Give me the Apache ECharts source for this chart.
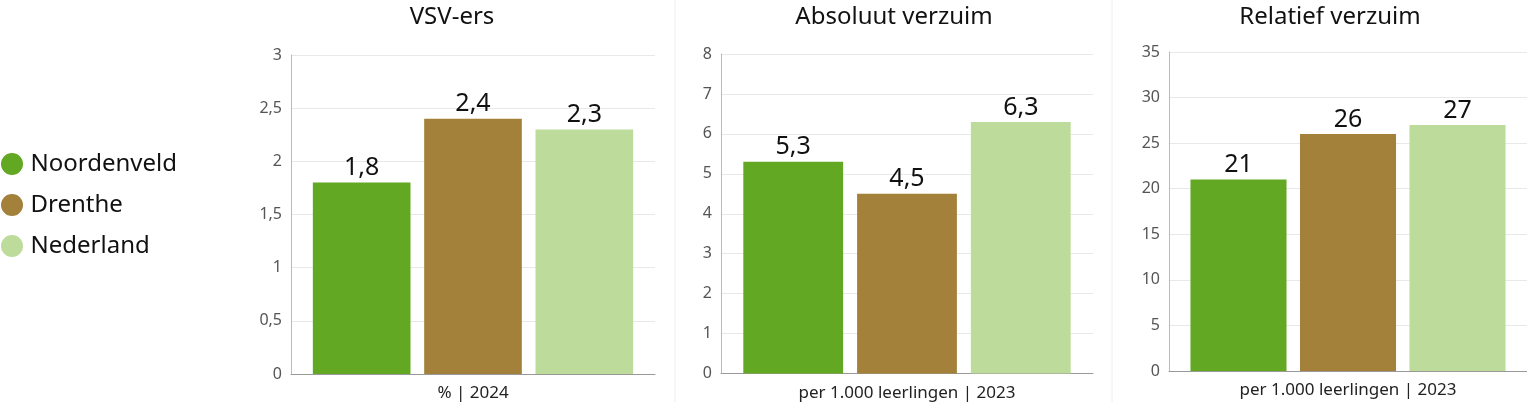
<!DOCTYPE html>
<html><head><meta charset="utf-8">
<script src="https://cdn.jsdelivr.net/npm/echarts@6/dist/echarts.min.js"></script>
<style>html,body{margin:0;padding:0;background:#fff}#c{width:1527px;height:402px}</style>
</head><body><div id="c"></div>
<script>
const seriesNames = ['Noordenveld', 'Drenthe', 'Nederland'];
const colors = ['#62a823', '#a3813b', '#bddb9b'];
const titles = ['VSV-ers', 'Absoluut verzuim', 'Relatief verzuim'];
const xLabels = ['% | 2024', 'per 1.000 leerlingen | 2023', 'per 1.000 leerlingen | 2023'];
const vsvValues = [1.8, 2.4, 2.3];
const absoluutValues = [5.3, 4.5, 6.3];
const relatiefValues = [21, 26, 27];
const yMax = [3, 8, 35];
const yInterval = [0.5, 1, 5];

const panelValues = [vsvValues, absoluutValues, relatiefValues];
const FONT = "'Noto Sans', sans-serif";
const grids = [
  {left: 291, width: 364, top: 55, bottom: 28},
  {left: 721, width: 372, top: 54, bottom: 28.5},
  {left: 1169, width: 358, top: 52, bottom: 31}
];
const titleCenters = [452, 894, 1330];
const fmt = v => String(v).replace('.', ',');

const chart = echarts.init(document.getElementById('c'), null, {renderer: 'canvas'});
const series = [];
panelValues.forEach((vals, p) => {
  vals.forEach((v, i) => {
    series.push({
      type: 'bar', name: seriesNames[i], xAxisIndex: p, yAxisIndex: p,
      data: [v], barGap: '14%', barCategoryGap: '12%',
      itemStyle: {color: colors[i]},
      label: {show: true, position: 'top', distance: 2, color: '#111', fontSize: 25, fontFamily: FONT,
        formatter: pr => fmt(pr.value)},
      emphasis: {disabled: true}
    });
  });
});

chart.setOption({
  animation: false,
  textStyle: {fontFamily: FONT},
  title: titles.map((t, i) => ({
    text: t, left: titleCenters[i], top: 5, padding: 0, textAlign: 'center',
    textStyle: {fontSize: 24, fontWeight: 'normal', color: '#111', fontFamily: FONT}
  })),
  legend: {
    data: seriesNames, orient: 'vertical', left: 1, top: 152, padding: 0, itemGap: 17,
    icon: 'circle', itemWidth: 23, itemHeight: 22, selectedMode: false,
    textStyle: {fontSize: 24, lineHeight: 22, color: '#111', fontFamily: FONT, padding: [0, 0, 0, 2]}
  },
  grid: grids,
  xAxis: grids.map((g, i) => ({
    type: 'category', gridIndex: i, data: [xLabels[i]],
    axisLine: {lineStyle: {color: '#999'}}, axisTick: {show: false},
    axisLabel: {fontSize: 17, color: '#222', margin: 11, fontFamily: FONT}
  })),
  yAxis: grids.map((g, i) => ({
    type: 'value', gridIndex: i, min: 0, max: yMax[i], interval: yInterval[i],
    axisLine: {show: true, lineStyle: {color: '#bbb'}}, axisTick: {show: false},
    splitLine: {lineStyle: {color: '#e8e8e8'}},
    axisLabel: {fontSize: 16, color: '#555', margin: 9, fontFamily: FONT, formatter: v => fmt(v)}
  })),
  graphic: [675, 1112].map(x => ({
    type: 'line', shape: {x1: x, y1: 0, x2: x, y2: 402}, style: {stroke: '#eeeeee', lineWidth: 1}, silent: true
  })),
  series: series
});
</script></body></html>
